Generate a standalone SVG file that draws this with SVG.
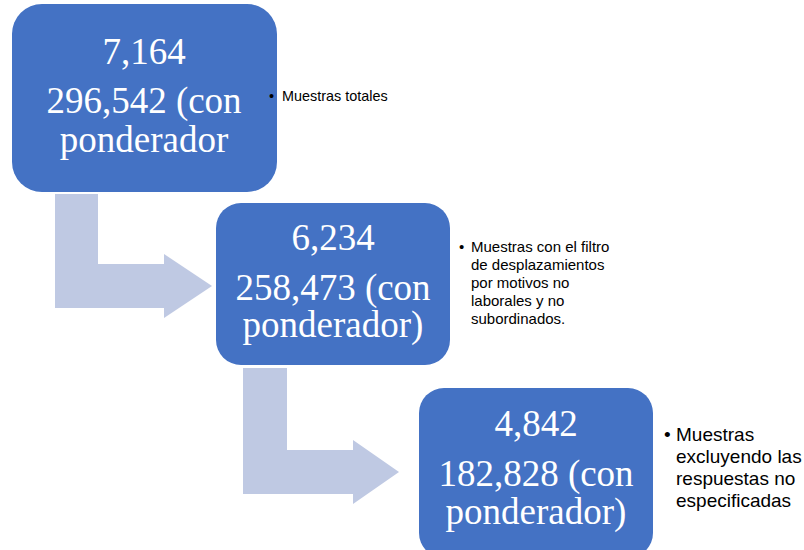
<svg xmlns="http://www.w3.org/2000/svg" width="804" height="550" viewBox="0 0 804 550">
<style>
.box{fill:#4472C4}
.arrow{fill:#BFC9E3}
.num{font-family:"Liberation Serif","Times New Roman",serif;font-size:37px;fill:#FFFFFF;text-anchor:middle}
.lbl{font-family:"Liberation Sans",Arial,sans-serif;fill:#000000}
</style>
<rect width="804" height="550" fill="#FFFFFF"/>
<g id="connectors">
<path class="arrow" d="M55,194 H98 V264 H164 V254 L212,286 L164,318 V308 H55 Z"/>
<path class="arrow" d="M243,368 H287 V450 H353 V440 L399,472 L353,504 V494 H243 Z"/>
</g>
<g id="node1">
<rect class="box" x="12" y="4" width="265" height="188" rx="30" ry="30"/>
<text class="num" x="144" y="64">7,164</text>
<text class="num" x="144" y="113">296,542 (con</text>
<text class="num" x="144" y="152">ponderador</text>
</g>
<g id="node2">
<rect class="box" x="216" y="203" width="234" height="162" rx="25" ry="25"/>
<text class="num" x="333" y="250">6,234</text>
<text class="num" x="333" y="300">258,473 (con</text>
<text class="num" x="333" y="337">ponderador)</text>
</g>
<g id="node3">
<rect class="box" x="419" y="388" width="234" height="170" rx="25" ry="25"/>
<text class="num" x="536" y="436">4,842</text>
<text class="num" x="536" y="486">182,828 (con</text>
<text class="num" x="536" y="524">ponderador)</text>
</g>
<g id="label1" class="lbl" font-size="14.4">
<text x="269" y="101">•</text>
<text x="282" y="101">Muestras totales</text>
</g>
<g id="label2" class="lbl" font-size="15">
<text x="459" y="252">•</text>
<text x="471" y="252">Muestras con el filtro</text>
<text x="471" y="270">de desplazamientos</text>
<text x="471" y="288">por motivos no</text>
<text x="471" y="306">laborales y no</text>
<text x="471" y="324">subordinados.</text>
</g>
<g id="label3" class="lbl" font-size="19">
<text x="664" y="441">•</text>
<text x="676" y="441">Muestras</text>
<text x="676" y="463">excluyendo las</text>
<text x="676" y="485">respuestas no</text>
<text x="676" y="507">especificadas</text>
</g>
</svg>
